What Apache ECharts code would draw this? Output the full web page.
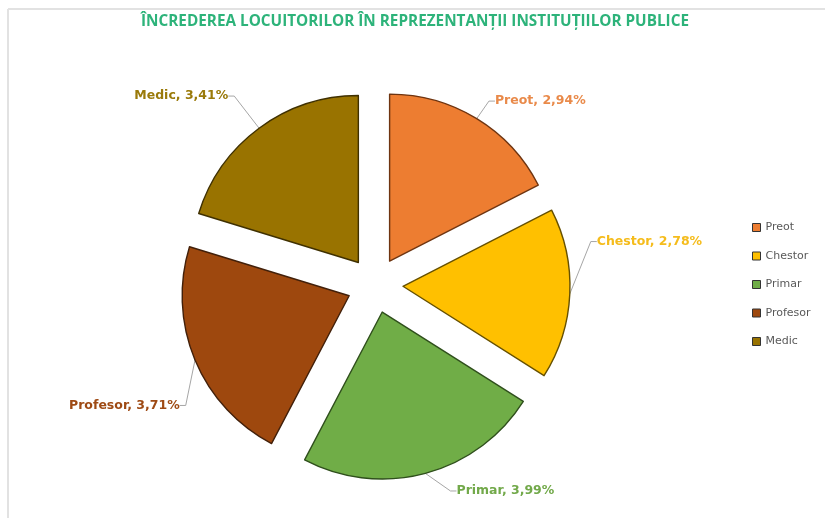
<!DOCTYPE html>
<html>
<head>
<meta charset="utf-8">
<script src="https://cdn.jsdelivr.net/npm/echarts@6/dist/echarts.min.js"></script>
<style>html,body{margin:0;padding:0;background:#fff}#c{width:825px;height:518px}</style>
</head>
<body>
<div id="c"></div>
<script>
const titleText = 'ÎNCREDEREA LOCUITORILOR ÎN REPREZENTANȚII INSTITUȚIILOR PUBLICE';
const categories = ['Preot', 'Chestor', 'Primar', 'Profesor', 'Medic'];
const values = [2.94, 2.78, 3.99, 3.71, 3.41];
const colors = ['#ED7D31', '#FFC000', '#70AD47', '#9E480E', '#997300'];
const borderColors = ['#6e3410', '#665000', '#2f4f1c', '#42200a', '#3f3000'];
const labelColors = ['#E98A4A', '#F5BC1C', '#72A94A', '#9E4A14', '#9A7A0A'];
const lineLen = [10, 14, 12, 22, 30];
const labelDx = [2, 2, 17, 16, -2];
const labelDy = [-9, -53, 6, 37, -8];

const chart = echarts.init(document.getElementById('c'));
chart.setOption({
  backgroundColor: '#fff',
  animation: false,
  title: {
    text: titleText,
    left: 410, top: 9, textAlign: 'center',
    textStyle: { color: '#2DB37A', fontSize: 15.3, fontWeight: 'bold', fontFamily: 'Open Sans' }
  },
  legend: {
    orient: 'vertical', left: 747, top: 217, itemGap: 17.5,
    itemWidth: 8, itemHeight: 8, icon: 'rect',
    textStyle: { color: '#595959', fontSize: 11, fontFamily: 'DejaVu Sans' },
    itemStyle: { borderWidth: 1, borderColor: '#333' },
    data: categories
  },
  graphic: [
    { type: 'line', shape: { x1: 8, y1: 9, x2: 825, y2: 9 }, style: { stroke: '#e2e2e2', lineWidth: 2 } },
    { type: 'line', shape: { x1: 8, y1: 9, x2: 8, y2: 518 }, style: { stroke: '#e2e2e2', lineWidth: 2 } }
  ],
  series: [{
    type: 'pie',
    center: [375, 285],
    radius: [0, 167],
    startAngle: 90,
    clockwise: true,
    selectedMode: 'multiple',
    selectedOffset: 28,
    emphasis: { disabled: true },
    avoidLabelOverlap: false,
    label: {
      show: true, position: 'outside',
      fontFamily: 'DejaVu Sans', fontSize: 12.5, fontWeight: 'bold',
      formatter: p => p.name + ', ' + p.value.toFixed(2).replace('.', ',') + '%'
    },
    labelLine: { show: true, length2: 6, lineStyle: { color: '#a6a6a6', width: 1 } },
    labelLayout: p => {
      const r = p.labelRect;
      const ax = p.align === 'right' ? r.x + r.width : (p.align === 'center' ? r.x + r.width / 2 : r.x);
      const ay = r.y + r.height / 2;
      return { x: ax, y: ay, dx: labelDx[p.dataIndex], dy: labelDy[p.dataIndex] };
    },
    data: categories.map((c, i) => ({
      name: c, value: values[i], selected: true,
      itemStyle: { color: colors[i], borderColor: borderColors[i], borderWidth: 1.4 },
      label: { color: labelColors[i] },
      labelLine: { length: lineLen[i] }
    }))
  }]
});
</script>
</body>
</html>
